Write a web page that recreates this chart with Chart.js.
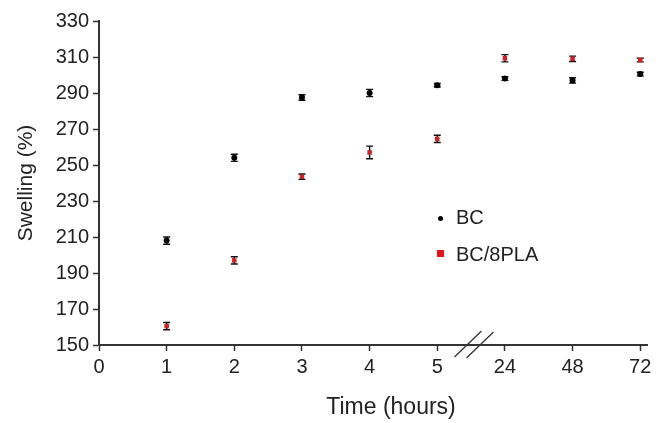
<!DOCTYPE html>
<html>
<head>
<meta charset="utf-8">
<script src="https://cdn.jsdelivr.net/npm/chart.js@4"></script>
<style>
  html, body { margin: 0; padding: 0; background: #fff; }
  #wrap { position: relative; width: 666px; height: 423px; }
  .leg { position: absolute; font: 20px "Liberation Sans", Arial, sans-serif; color: #222; }
  .mk { position: absolute; }
  #xtitle { position: absolute; left: 291px; width: 200px; top: 393px; text-align: center;
            font: 23px "Liberation Sans", Arial, sans-serif; color: #222; }
</style>
</head>
<body>
<div id="wrap">
  <canvas id="swelling" width="666" height="423"></canvas>
  <div class="mk" style="left:438px;top:216px;width:5px;height:5px;border-radius:50%;background:#000"></div>
  <div class="leg" style="left:456px;top:206px">BC</div>
  <div class="mk" style="left:437px;top:250px;width:7px;height:7px;background:#e8141c"></div>
  <div class="leg" style="left:456px;top:243px">BC/8PLA</div>
  <div id="xtitle">Time (hours)</div>
</div>
<script>
// tiempos y valores
var xTickLabels = ['0', '1', '2', '3', '4', '5', '24', '48', '72'];
var hours = [1, 2, 3, 4, 5, 24, 48, 72];
var bc = [208, 254, 287.5, 290, 294.3, 298, 297, 300.5];
var bcErr = [2, 2, 1.5, 2, 1, 1, 1.5, 1];
var pla = [160.5, 197, 243.5, 257, 264.5, 309.3, 309, 308.3];
var plaErr = [2, 2, 1.5, 3.5, 2, 2, 1.5, 1];

// posicion en el eje (hay un corte entre 5 y 24)
function pos(h) { return xTickLabels.indexOf(String(h)); }
function pts(vals) {
    return hours.map(function (h, i) { return { x: pos(h), y: vals[i] }; });
}

var errorBars = {
    id: 'errorBars',
    beforeDatasetsDraw: function (chart) {
        var c = chart.ctx, xs = chart.scales.x, ys = chart.scales.y;
        var errs = [bcErr, plaErr];
        c.save();
        c.strokeStyle = '#111';
        c.lineWidth = 1.4;
        chart.data.datasets.forEach(function (ds, d) {
            ds.data.forEach(function (p, i) {
                var px = xs.getPixelForValue(p.x);
                var top = ys.getPixelForValue(p.y + errs[d][i]);
                var bot = ys.getPixelForValue(p.y - errs[d][i]);
                c.beginPath();
                c.moveTo(px, top); c.lineTo(px, bot);
                c.moveTo(px - 3.5, top); c.lineTo(px + 3.5, top);
                c.moveTo(px - 3.5, bot); c.lineTo(px + 3.5, bot);
                c.stroke();
            });
        });
        c.restore();
    }
};

var axisBreak = {
    id: 'axisBreak',
    afterDraw: function (chart) {
        var c = chart.ctx, xs = chart.scales.x;
        var bx = xs.getPixelForValue(5.55);
        var by = chart.chartArea.bottom;
        c.save();
        c.strokeStyle = '#333';
        c.lineWidth = 1.3;
        c.beginPath();
        c.moveTo(bx - 20, by + 12); c.lineTo(bx + 7, by - 14);
        c.moveTo(bx - 8, by + 13); c.lineTo(bx + 19, by - 13);
        c.stroke();
        c.restore();
    }
};

var ctx = document.getElementById('swelling').getContext('2d');
var myChart = new Chart(ctx, {
    type: 'scatter',
    data: {
        datasets: [{
            label: 'BC',
            data: pts(bc),
            pointStyle: 'circle',
            pointRadius: 3,
            backgroundColor: '#000',
            borderColor: '#000',
            borderWidth: 0
        }, {
            label: 'BC/8PLA',
            data: pts(pla),
            pointStyle: 'rect',
            pointRadius: 3.2,
            backgroundColor: '#cc2424',
            borderColor: '#cc2424',
            borderWidth: 0
        }]
    },
    options: {
        responsive: false,
        animation: false,
        layout: { padding: { top: 21, right: 19, left: 0, bottom: 0 } },
        plugins: {
            legend: { display: false },
            tooltip: { enabled: false }
        },
        scales: {
            x: {
                type: 'linear',
                min: 0,
                max: 8.1,
                afterBuildTicks: function (s) {
                    s.ticks = xTickLabels.map(function (t, i) { return { value: i }; });
                },
                afterFit: function (s) { s.height = 423 - 345; },
                ticks: {
                    callback: function (v) { return xTickLabels[v]; },
                    color: '#222',
                    padding: 4,
                    maxRotation: 0,
                    font: { family: 'Liberation Sans', size: 20 }
                },
                grid: { drawOnChartArea: false, tickLength: 6, tickColor: '#333', tickWidth: 1.5 },
                border: { color: '#333', width: 2 }
            },
            y: {
                min: 150,
                max: 330,
                afterFit: function (s) { s.width = 99; },
                ticks: {
                    stepSize: 20,
                    color: '#222',
                    padding: 4,
                    font: { family: 'Liberation Sans', size: 20 }
                },
                grid: { drawOnChartArea: false, tickLength: 6, tickColor: '#333', tickWidth: 1.5 },
                border: { color: '#333', width: 2 },
                title: {
                    display: true,
                    text: 'Swelling (%)',
                    color: '#222',
                    padding: { top: 14, bottom: 0 },
                    font: { family: 'Liberation Sans', size: 21 }
                }
            }
        }
    },
    plugins: [errorBars, axisBreak]
});
</script>
</body>
</html>
